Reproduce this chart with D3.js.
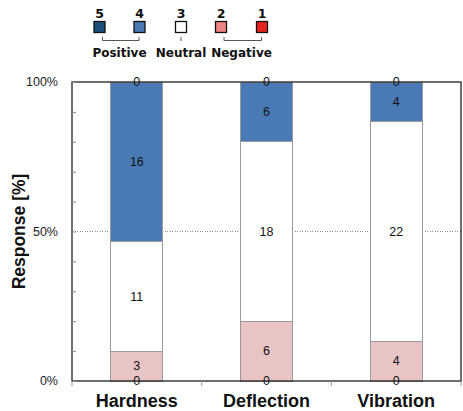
<!DOCTYPE html>
<html>
<head>
<meta charset="utf-8">
<script src="https://cdn.jsdelivr.net/npm/d3@7"></script>
<style>
  body { margin: 0; background: #fff; }
  svg { display: block; font-family: "Liberation Sans", Arial, sans-serif; }
</style>
</head>
<body>
<div id="chart"></div>
<script>
// response counts per rating (1 = most negative, 5 = most positive)
const categories = ["Hardness", "Deflection", "Vibration"];
const rating1 = [0, 0, 0];
const rating2 = [3, 6, 4];
const rating3 = [11, 18, 22];
const rating4 = [16, 6, 4];
const rating5 = [0, 0, 0];
const yTickLabels = ["0%", "50%", "100%"];

const legendItems = [
    { key: "r5", label: "5", color: "#1f4e79" },
    { key: "r4", label: "4", color: "#4a7ab5" },
    { key: "r3", label: "3", color: "#ffffff" },
    { key: "r2", label: "2", color: "#f08482" },
    { key: "r1", label: "1", color: "#e8231f" }
];
const groupLabels = [
    { label: "Positive", from: "r5", to: "r4" },
    { label: "Neutral", from: "r3", to: "r3" },
    { label: "Negative", from: "r2", to: "r1" }
];

const barColors = { r1: "#e8231f", r2: "#e8c5c4", r3: "#ffffff", r4: "#4a7ab5", r5: "#1f4e79" };

const width = 463, height = 411;
const margin = { top: 82, right: 2, bottom: 30, left: 72 };

const svg = d3.select("#chart").append("svg")
    .attr("width", width)
    .attr("height", height);

// build rows for the stack
const rows = categories.map((c, i) => ({
    category: c,
    r1: rating1[i], r2: rating2[i], r3: rating3[i], r4: rating4[i], r5: rating5[i]
}));
const keys = ["r1", "r2", "r3", "r4", "r5"];
const stacked = d3.stack().keys(keys).offset(d3.stackOffsetExpand)(rows);

const x = d3.scaleBand()
    .domain(categories)
    .range([margin.left, width - margin.right])
    .paddingInner(0.6)
    .paddingOuter(0.3);
const step = x.step();

const y = d3.scaleLinear()
    .domain([0, 1])
    .range([height - margin.bottom, margin.top]);

const plot = svg.append("g");

// 50% gridline
plot.append("line")
    .attr("x1", margin.left).attr("x2", width - margin.right)
    .attr("y1", y(0.5)).attr("y2", y(0.5))
    .attr("stroke", "#888")
    .attr("stroke-dasharray", "1,1.5")
    .attr("shape-rendering", "crispEdges");

// bars
plot.selectAll(".series")
    .data(stacked)
    .join("g")
    .attr("class", "series")
    .attr("fill", d => barColors[d.key])
    .selectAll("rect")
    .data(d => d)
    .join("rect")
    .attr("x", d => x(d.data.category))
    .attr("width", x.bandwidth())
    .attr("y", d => y(d[1]))
    .attr("height", d => y(d[0]) - y(d[1]))
    .attr("stroke", "#9a9a9a")
    .attr("stroke-width", 1)
    .attr("shape-rendering", "crispEdges");

// value labels
stacked.forEach(s => {
    plot.selectAll(".lbl-" + s.key)
        .data(s)
        .join("text")
        .attr("x", d => x(d.data.category) + x.bandwidth() / 2)
        .attr("y", d => (y(d[0]) + y(d[1])) / 2 + 1)
        .attr("text-anchor", "middle")
        .attr("dominant-baseline", "middle")
        .attr("font-size", 12.5)
        .attr("fill", "#111")
        .text(d => d.data[s.key]);
});

// frame
plot.append("rect")
    .attr("x", margin.left).attr("y", margin.top)
    .attr("width", width - margin.right - margin.left)
    .attr("height", height - margin.bottom - margin.top)
    .attr("fill", "none")
    .attr("stroke", "#222")
    .attr("stroke-width", 1.3);

// y axis: minor ticks every 10%, labels at 0/50/100
const yAxis = svg.append("g")
    .attr("transform", `translate(${margin.left},0)`)
    .call(d3.axisRight(y).ticks(10).tickSize(4).tickFormat(""));
yAxis.select(".domain").remove();
yAxis.selectAll("line").attr("stroke", "#888");

svg.append("g")
    .selectAll("text")
    .data(yTickLabels)
    .join("text")
    .attr("x", 58)
    .attr("y", (d, i) => y(i * 0.5) + 1)
    .attr("text-anchor", "end")
    .attr("dominant-baseline", "middle")
    .attr("font-size", 12.5)
    .attr("fill", "#222")
    .text(d => d);

// x axis ticks at category boundaries
const xb = d3.range(categories.length + 1).map(i => margin.left + i * step);
svg.append("g")
    .selectAll("line")
    .data(xb)
    .join("line")
    .attr("x1", d => d).attr("x2", d => d)
    .attr("y1", y(0)).attr("y2", y(0) + 5)
    .attr("stroke", "#999");

svg.append("g")
    .selectAll("text")
    .data(categories)
    .join("text")
    .attr("x", d => x(d) + x.bandwidth() / 2)
    .attr("y", 407)
    .attr("text-anchor", "middle")
    .attr("font-size", 18)
    .attr("font-weight", "bold")
    .attr("fill", "#111")
    .text(d => d);

// y title
svg.append("text")
    .attr("transform", `translate(25,${(margin.top + height - margin.bottom) / 2}) rotate(-90)`)
    .attr("text-anchor", "middle")
    .attr("font-size", 17.5)
    .attr("font-weight", "bold")
    .attr("fill", "#111")
    .text("Response [%]");

// legend
const legendX = { r5: 99.5, r4: 139.5, r3: 181, r2: 221, r1: 262 };
const legend = svg.append("g").style("font-family", "'DejaVu Sans', Verdana, sans-serif");
legend.selectAll("rect")
    .data(legendItems)
    .join("rect")
    .attr("x", d => legendX[d.key] - 5.5)
    .attr("y", 21.5)
    .attr("width", 11)
    .attr("height", 11)
    .attr("fill", d => d.color)
    .attr("stroke", "#111")
    .attr("stroke-width", 1.3);
legend.selectAll(".num")
    .data(legendItems)
    .join("text")
    .attr("class", "num")
    .attr("x", d => legendX[d.key])
    .attr("y", 18)
    .attr("text-anchor", "middle")
    .attr("font-size", 12.5)
    .attr("font-weight", "bold")
    .attr("fill", "#111")
    .text(d => d.label);

groupLabels.forEach(g => {
    const x0 = legendX[g.from] + (g.from === g.to ? 0 : 3);
    const x1 = legendX[g.to] + (g.from === g.to ? 0 : -0.5);
    const path = g.from === g.to
        ? `M${x0},37V41`
        : `M${x0},37V40.5H${x1}V37`;
    legend.append("path")
        .attr("d", path)
        .attr("fill", "none")
        .attr("stroke", "#555")
        .attr("stroke-width", 1);
    legend.append("text")
        .attr("x", (legendX[g.from] + legendX[g.to]) / 2)
        .attr("y", 57)
        .attr("text-anchor", "middle")
        .attr("font-size", 12)
        .attr("font-weight", "bold")
        .attr("fill", "#111")
        .text(g.label);
});
</script>
</body>
</html>
